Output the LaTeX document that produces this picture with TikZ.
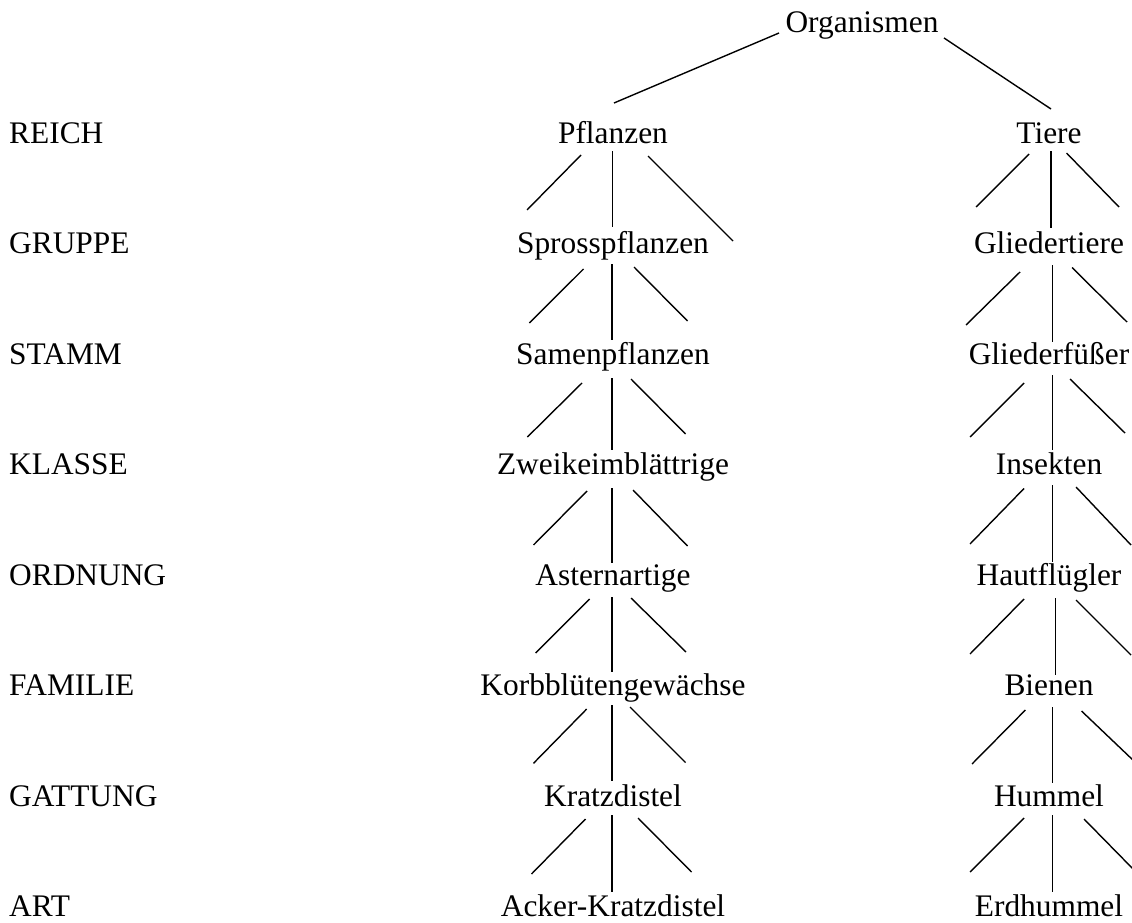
\documentclass[tikz,border=0pt]{standalone}
\usepackage{fontspec}
\setmainfont{Liberation Serif}
\tikzset{
  lbl/.style={inner sep=0pt, anchor=base, font=\fontsize{31.4}{36}\selectfont},
  rank/.style={inner sep=0pt, anchor=base west, font=\fontsize{31.4}{36}\selectfont},
  br/.style={line width=1.4pt, black}
}
\begin{document}
\begin{tikzpicture}[x=1pt,y=-1pt]
\useasboundingbox (0,0) rectangle (1132,923);
\fill[white] (0,0) rectangle (1132,923);
\clip (0,0) rectangle (1132,923);
% rank labels
\node[rank] (r1) at (9,143) {REICH};
\node[rank] (r2) at (9,253.5) {GRUPPE};
\node[rank] (r3) at (9,364) {STAMM};
\node[rank] (r4) at (9,474.5) {KLASSE};
\node[rank] (r5) at (9,585) {ORDNUNG};
\node[rank] (r6) at (9,695.5) {FAMILIE};
\node[rank] (r7) at (9,806) {GATTUNG};
\node[rank] (r8) at (9,916.5) {ART};
% tree nodes
\node[lbl] (org) at (862,32.5) {Organismen};
\node[lbl] (pfl) at (613,143) {Pflanzen};
\node[lbl] (spr) at (613,253.5) {Sprosspflanzen};
\node[lbl] (sam) at (613,364) {Samenpflanzen};
\node[lbl] (zwe) at (613,474.5) {Zweikeimblättrige};
\node[lbl] (ast) at (613,585) {Asternartige};
\node[lbl] (kor) at (613,695.5) {Korbblütengewächse};
\node[lbl] (kra) at (613,806) {Kratzdistel};
\node[lbl] (ack) at (613,916.5) {Acker-Kratzdistel};
\node[lbl] (tie) at (1049,143) {Tiere};
\node[lbl] (gli) at (1049,253.5) {Gliedertiere};
\node[lbl] (glf) at (1049,364) {Gliederfüßer};
\node[lbl] (ins) at (1049,474.5) {Insekten};
\node[lbl] (hau) at (1049,585) {Hautflügler};
\node[lbl] (bie) at (1049,695.5) {Bienen};
\node[lbl] (hum) at (1049,806) {Hummel};
\node[lbl] (erd) at (1049,916.5) {Erdhummel};
% top branches
\draw[br] ([shift={(-83,0.5)}]org.base) -- ([shift={(-248,70.5)}]org.base);
\draw[br] ([shift={(82,5.5)}]org.base) -- ([shift={(189,76.5)}]org.base);
% Pflanzen
\draw[br] ([shift={(-32,12)}]pfl.base) -- ([shift={(-86,67)}]pfl.base);
\draw[br] ([shift={(-0.5,8)}]pfl.base) -- ([shift={(-0.5,84)}]pfl.base);
\draw[br] ([shift={(35,13)}]pfl.base) -- ([shift={(120,98)}]pfl.base);
% Sprosspflanzen
\draw[br] ([shift={(-29.5,15.5)}]spr.base) -- ([shift={(-83.6,69.5)}]spr.base);
\draw[br] ([shift={(-1,10.5)}]spr.base) -- ([shift={(-1,86.5)}]spr.base);
\draw[br] ([shift={(21,13.5)}]spr.base) -- ([shift={(74.5,67.5)}]spr.base);
% Samenpflanzen
\draw[br] ([shift={(-31,19)}]sam.base) -- ([shift={(-85.6,73)}]sam.base);
\draw[br] ([shift={(-1,14)}]sam.base) -- ([shift={(-1,86)}]sam.base);
\draw[br] ([shift={(18,15)}]sam.base) -- ([shift={(72.5,70)}]sam.base);
% Zweikeimblaettrige
\draw[br] ([shift={(-26,16.5)}]zwe.base) -- ([shift={(-79.5,70.5)}]zwe.base);
\draw[br] ([shift={(-1,13.5)}]zwe.base) -- ([shift={(-1,88.5)}]zwe.base);
\draw[br] ([shift={(20,15.5)}]zwe.base) -- ([shift={(74.5,71.5)}]zwe.base);
% Asternartige
\draw[br] ([shift={(-23.5,14)}]ast.base) -- ([shift={(-77.5,68)}]ast.base);
\draw[br] ([shift={(-1,12)}]ast.base) -- ([shift={(-1,87)}]ast.base);
\draw[br] ([shift={(18,13)}]ast.base) -- ([shift={(73,67)}]ast.base);
% Korbbluetengewaechse
\draw[br] ([shift={(-26.3,13.5)}]kor.base) -- ([shift={(-79.5,67.8)}]kor.base);
\draw[br] ([shift={(-1,9.5)}]kor.base) -- ([shift={(-1,85.5)}]kor.base);
\draw[br] ([shift={(17,11.5)}]kor.base) -- ([shift={(72.5,67)}]kor.base);
% Kratzdistel
\draw[br] ([shift={(-27.5,13)}]kra.base) -- ([shift={(-81.5,68)}]kra.base);
\draw[br] ([shift={(-1,9)}]kra.base) -- ([shift={(-1,86)}]kra.base);
\draw[br] ([shift={(25,12)}]kra.base) -- ([shift={(78.5,66)}]kra.base);
% Tiere
\draw[br] ([shift={(-20,11)}]tie.base) -- ([shift={(-73,64)}]tie.base);
\draw[br] ([shift={(2,8)}]tie.base) -- ([shift={(2,85)}]tie.base);
\draw[br] ([shift={(17.5,10)}]tie.base) -- ([shift={(70,64)}]tie.base);
% Gliedertiere
\draw[br] ([shift={(-29,18.5)}]gli.base) -- ([shift={(-83,71.5)}]gli.base);
\draw[br] ([shift={(3.4,11.5)}]gli.base) -- ([shift={(3.4,88.5)}]gli.base);
\draw[br] ([shift={(23,14)}]gli.base) -- ([shift={(78,68.5)}]gli.base);
% Gliederfuesser
\draw[br] ([shift={(-25,19)}]glf.base) -- ([shift={(-79,73)}]glf.base);
\draw[br] ([shift={(3.4,11)}]glf.base) -- ([shift={(3.4,86)}]glf.base);
\draw[br] ([shift={(21,15)}]glf.base) -- ([shift={(76,69)}]glf.base);
% Insekten
\draw[br] ([shift={(-25,14)}]ins.base) -- ([shift={(-79,69.5)}]ins.base);
\draw[br] ([shift={(3.4,10.5)}]ins.base) -- ([shift={(3.4,87.5)}]ins.base);
\draw[br] ([shift={(27,12.5)}]ins.base) -- ([shift={(82,70.5)}]ins.base);
% Hautfluegler
\draw[br] ([shift={(-25,14)}]hau.base) -- ([shift={(-79,69)}]hau.base);
\draw[br] ([shift={(6.6,13)}]hau.base) -- ([shift={(6.6,90)}]hau.base);
\draw[br] ([shift={(27,15)}]hau.base) -- ([shift={(82,70)}]hau.base);
% Bienen
\draw[br] ([shift={(-23.6,14.5)}]bie.base) -- ([shift={(-77,68.5)}]bie.base);
\draw[br] ([shift={(3.4,11.5)}]bie.base) -- ([shift={(3.4,87.5)}]bie.base);
\draw[br] ([shift={(32.5,15.5)}]bie.base) -- ([shift={(86,66.5)}]bie.base);
% Hummel
\draw[br] ([shift={(-25,12)}]hum.base) -- ([shift={(-79,66)}]hum.base);
\draw[br] ([shift={(3.4,9)}]hum.base) -- ([shift={(3.4,86)}]hum.base);
\draw[br] ([shift={(35,13)}]hum.base) -- ([shift={(87,66)}]hum.base);
\end{tikzpicture}
\end{document}
